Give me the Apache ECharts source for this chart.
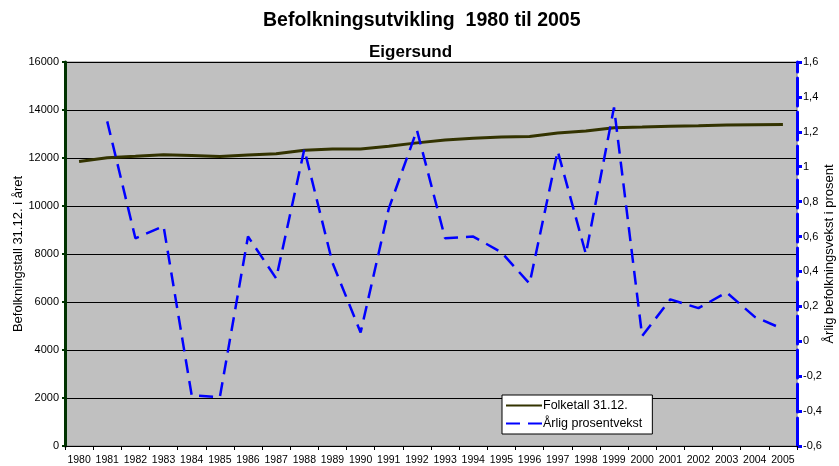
<!DOCTYPE html>
<html><head><meta charset="utf-8">
<script src="https://cdn.jsdelivr.net/npm/echarts@6/dist/echarts.min.js"></script>
<style>html,body{margin:0;padding:0;background:#fff}#c{width:839px;height:466px}</style>
</head><body><div id="c"></div>
<script>
const years = ['1980','1981','1982','1983','1984','1985','1986','1987','1988','1989','1990','1991','1992','1993','1994','1995','1996','1997','1998','1999','2000','2001','2002','2003','2004','2005'];
const folketall = [11850,12010,12070,12140,12100,12060,12125,12180,12320,12375,12375,12490,12630,12750,12820,12875,12900,13040,13125,13265,13290,13320,13345,13375,13390,13400];
const vekst = [null,1.26,0.59,0.66,-0.31,-0.32,0.60,0.36,1.10,0.45,0.05,0.76,1.21,0.59,0.60,0.51,0.33,1.09,0.50,1.34,0.03,0.24,0.19,0.28,0.14,0.07];

const font = 'Liberation Sans, Arial, sans-serif';
const chart = echarts.init(document.getElementById('c'));
chart.setOption({
  animation: false,
  backgroundColor: '#fff',
  title: [
    {text: 'Befolkningsutvikling  1980 til 2005', left: 258, top: 6,
     textStyle: {fontFamily: font, fontSize: 19.5, fontWeight: 'bold', color: '#000'}},
    {text: 'Eigersund', left: 364, top: 39,
     textStyle: {fontFamily: font, fontSize: 17, fontWeight: 'bold', color: '#000'}}
  ],
  grid: {left: 65, right: 42, top: 62, bottom: 20, outerBoundsMode: 'none', containLabel: false,
         show: true, backgroundColor: '#C0C0C0', borderColor: '#808080', borderWidth: 1},
  legend: {
    left: 502, top: 395, orient: 'vertical', itemGap: 5, itemWidth: 36, itemHeight: 8,
    backgroundColor: '#fff', borderColor: '#000', borderWidth: 1, padding: [4, 10, 4, 3],
    itemStyle: {opacity: 0},
    textStyle: {fontFamily: font, fontSize: 12.5, color: '#000', padding: [0,0,0,-4]},
    data: ['Folketall 31.12.', 'Årlig prosentvekst']
  },
  xAxis: {
    type: 'category', data: years, boundaryGap: true,
    axisLine: {show: true, lineStyle: {color: '#000', width: 1}},
    axisTick: {show: true, length: 4, lineStyle: {color: '#000'}},
    axisLabel: {fontFamily: font, fontSize: 10.5, color: '#000', margin: 9, interval: 0}
  },
  yAxis: [
    {type: 'value', min: 0, max: 16000, interval: 2000, position: 'left',
     name: 'Befolkningstall 31.12. i året', nameLocation: 'middle', nameGap: 40, nameRotate: 90,
     nameMoveOverlap: false,
     nameTextStyle: {fontFamily: font, fontSize: 13, color: '#000'},
     axisLine: {show: true, lineStyle: {color: '#003300', width: 3}},
     axisTick: {show: true, length: 3, lineStyle: {color: '#003300', width: 2}},
     axisLabel: {fontFamily: font, fontSize: 11, color: '#000', margin: 6, formatter: v => String(v)},
     splitLine: {show: true, lineStyle: {color: '#000', width: 1}}},
    {type: 'value', min: -0.6, max: 1.6, interval: 0.2, position: 'right',
     name: 'Årlig befolkningsvekst i prosent', nameLocation: 'middle', nameGap: 26, nameRotate: 90,
     nameMoveOverlap: false,
     nameTextStyle: {fontFamily: font, fontSize: 13, color: '#000'},
     axisLine: {show: true, lineStyle: {color: '#0000FF', width: 3, type: [28, 6]}},
     axisTick: {show: true, length: 5, lineStyle: {color: '#0000FF', width: 3}},
     axisLabel: {fontFamily: font, fontSize: 11, color: '#000', margin: 6,
       formatter: v => String(Math.round(v * 10) / 10).replace('.', ',')},
     splitLine: {show: false}}
  ],
  series: [
    {name: 'Folketall 31.12.', type: 'line', yAxisIndex: 0, data: folketall,
     showSymbol: false, symbol: 'none', lineStyle: {color: '#333300', width: 3}, itemStyle: {color: '#333300'}},
    {name: 'Årlig prosentvekst', type: 'line', yAxisIndex: 1, data: vekst,
     showSymbol: false, symbol: 'none', lineStyle: {color: '#0000FF', width: 2.5, type: [14, 8]}, itemStyle: {color: '#0000FF'}}
  ]
});
</script></body></html>
